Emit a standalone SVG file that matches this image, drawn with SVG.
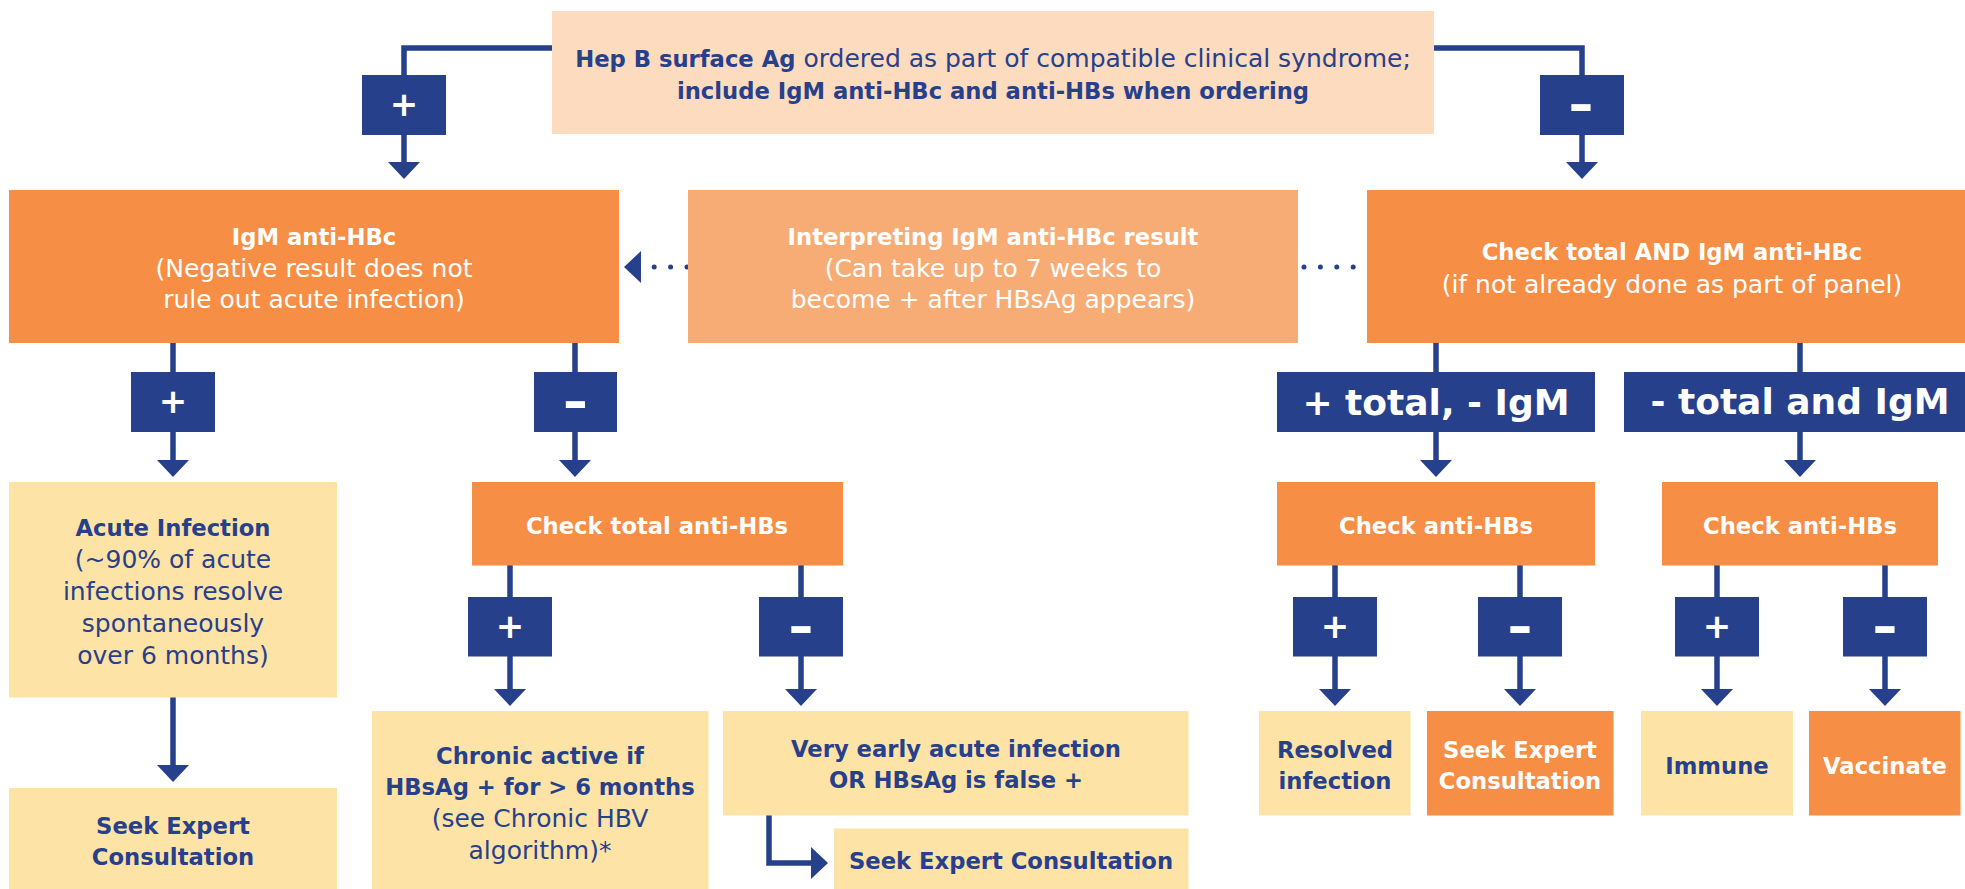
<svg xmlns="http://www.w3.org/2000/svg" width="1965" height="889" viewBox="0 0 1965 889">
<style>
.nv{fill:#26408B}
.or{fill:#F68E45}
.lo{fill:#F8AC75}
.pe{fill:#FCDBBE}
.ye{fill:#FDE3A6}
text{font-family:"DejaVu Sans","Liberation Sans",sans-serif;text-anchor:middle}
.b{font-weight:bold;font-size:22.7px}
.r{font-weight:normal;font-size:25px}
.w{fill:#FFFFFF}
.t{fill:#26408B}
.sg{font-weight:bold;font-size:34px;fill:#FFFFFF}
.mn{font-weight:bold;font-size:48px;fill:#FFFFFF}
.big{font-weight:bold;font-size:36px;fill:#FFFFFF}
.ln{stroke:#26408B;stroke-width:5.5;fill:none;marker-end:url(#ah)}
.dot{stroke:#26408B;stroke-width:5;fill:none;stroke-linecap:round;stroke-dasharray:0 16.4}
</style>
<defs>
<marker id="ah" markerUnits="userSpaceOnUse" markerWidth="17" markerHeight="32" refX="0" refY="16" orient="auto" viewBox="0 0 17 32"><path d="M0,0 L17,16 L0,32 Z" fill="#26408B"/></marker>
</defs>
<rect width="1965" height="889" fill="#FFFFFF"/>
<g id="connectors">
<path class="ln" d="M552,48 H404 V162"/>
<path class="ln" d="M1434,48 H1582 V162"/>
<path class="dot" d="M687,267 H641" style="marker-end:url(#ah)"/>
<path class="dot" d="M1304,267 H1372"/>
<path class="ln" d="M173,343 V460"/>
<path class="ln" d="M173,697 V765"/>
<path class="ln" d="M575,343 V460"/>
<path class="ln" d="M510,565 V689"/>
<path class="ln" d="M801,565 V689"/>
<path class="ln" d="M769,815 V863 H811"/>
<path class="ln" d="M1436,343 V460"/>
<path class="ln" d="M1800,343 V460"/>
<path class="ln" d="M1335,565 V689"/>
<path class="ln" d="M1520,565 V689"/>
<path class="ln" d="M1717,565 V689"/>
<path class="ln" d="M1885,565 V689"/>
</g>
<g id="n-top">
<rect class="pe" x="552" y="11" width="882" height="123"/>
<text class="t" x="993" y="66.5"><tspan class="b">Hep B surface Ag</tspan><tspan class="r"> ordered as part of compatible clinical syndrome;</tspan></text>
<text class="b t" x="993" y="98.5">include IgM anti-HBc and anti-HBs when ordering</text>
</g>
<g id="n-igm">
<rect class="or" x="9" y="190" width="610" height="153"/>
<text class="b w" x="314" y="245">IgM anti-HBc</text>
<text class="r w" x="314" y="276.5">(Negative result does not</text>
<text class="r w" x="314" y="307.5">rule out acute infection)</text>
</g>
<g id="n-interp">
<rect class="lo" x="688" y="190" width="610" height="153"/>
<text class="b w" x="993" y="245">Interpreting IgM anti-HBc result</text>
<text class="r w" x="993" y="276.5">(Can take up to 7 weeks to</text>
<text class="r w" x="993" y="307.5">become + after HBsAg appears)</text>
</g>
<g id="n-checkboth">
<rect class="or" x="1367" y="190" width="598" height="153"/>
<text class="b w" x="1672" y="260">Check total AND IgM anti-HBc</text>
<text class="r w" x="1672" y="293">(if not already done as part of panel)</text>
</g>
<g id="n-acute">
<rect class="ye" x="9" y="482" width="328" height="215.5"/>
<text class="b t" x="173" y="535.5">Acute Infection</text>
<text class="r t" x="173" y="567.5">(~90% of acute</text>
<text class="r t" x="173" y="599.5">infections resolve</text>
<text class="r t" x="173" y="631.5">spontaneously</text>
<text class="r t" x="173" y="663.5">over 6 months)</text>
</g>
<g id="n-seek1">
<rect class="ye" x="9" y="788" width="328" height="101"/>
<text class="b t" x="173" y="833.5">Seek Expert</text>
<text class="b t" x="173" y="865">Consultation</text>
</g>
<g id="n-checkhbs">
<rect class="or" x="472" y="482" width="371" height="83.5"/>
<text class="b w" x="657" y="534">Check total anti-HBs</text>
</g>
<g id="n-chronic">
<rect class="ye" x="372" y="711" width="336.5" height="178"/>
<text class="b t" x="540" y="763.5">Chronic active if</text>
<text class="b t" x="540" y="795">HBsAg + for &gt; 6 months</text>
<text class="r t" x="540" y="827">(see Chronic HBV</text>
<text class="r t" x="540" y="859">algorithm)*</text>
</g>
<g id="n-veryearly">
<rect class="ye" x="723" y="711" width="465.5" height="104.5"/>
<text class="b t" x="956" y="756.5">Very early acute infection</text>
<text class="b t" x="956" y="788">OR HBsAg is false +</text>
</g>
<g id="n-seek2">
<rect class="ye" x="834" y="828.5" width="354.5" height="60.5"/>
<text class="b t" x="1011" y="868.5">Seek Expert Consultation</text>
</g>
<g id="n-checkL">
<rect class="or" x="1277" y="482" width="318" height="83.5"/>
<text class="b w" x="1436" y="534">Check anti-HBs</text>
</g>
<g id="n-checkR">
<rect class="or" x="1662" y="482" width="276" height="83.5"/>
<text class="b w" x="1800" y="534">Check anti-HBs</text>
</g>
<g id="n-resolved">
<rect class="ye" x="1259" y="711" width="151.5" height="104.5"/>
<text class="b t" x="1335" y="757.5">Resolved</text>
<text class="b t" x="1335" y="789">infection</text>
</g>
<g id="n-seek3">
<rect class="or" x="1427" y="711" width="186.5" height="104.5"/>
<text class="b w" x="1520" y="757.5">Seek Expert</text>
<text class="b w" x="1520" y="789">Consultation</text>
</g>
<g id="n-immune">
<rect class="ye" x="1641" y="711" width="152" height="104.5"/>
<text class="b t" x="1717" y="774">Immune</text>
</g>
<g id="n-vaccinate">
<rect class="or" x="1809" y="711" width="151.5" height="104.5"/>
<text class="b w" x="1885" y="774">Vaccinate</text>
</g>
<g id="badge-top-pos"><rect class="nv" x="362" y="75" width="84" height="60"/><text class="sg" x="404" y="116">+</text></g>
<g id="badge-top-neg"><rect class="nv" x="1540" y="75" width="84" height="60"/><text class="mn" transform="translate(1581,120.5) scale(1.3,1)">-</text></g>
<g id="badge-igm-pos"><rect class="nv" x="131" y="372" width="84" height="60"/><text class="sg" x="173" y="413">+</text></g>
<g id="badge-igm-neg"><rect class="nv" x="534" y="372" width="83" height="60"/><text class="mn" transform="translate(575.5,417.5) scale(1.3,1)">-</text></g>
<g id="badge-hbs-pos"><rect class="nv" x="468" y="597" width="84" height="59.5"/><text class="sg" x="510" y="638">+</text></g>
<g id="badge-hbs-neg"><rect class="nv" x="759" y="597" width="84" height="59.5"/><text class="mn" transform="translate(801,642.5) scale(1.3,1)">-</text></g>
<g id="badge-total-pos"><rect class="nv" x="1277" y="372" width="318" height="60"/><text class="big" x="1436" y="415">+ total, - IgM</text></g>
<g id="badge-total-neg"><rect class="nv" x="1624" y="372" width="341" height="60"/><text class="big" x="1800" y="414">- total and IgM</text></g>
<g id="badge-l-pos"><rect class="nv" x="1293" y="597" width="84" height="59.5"/><text class="sg" x="1335" y="638">+</text></g>
<g id="badge-l-neg"><rect class="nv" x="1478" y="597" width="84" height="59.5"/><text class="mn" transform="translate(1520,642.5) scale(1.3,1)">-</text></g>
<g id="badge-r-pos"><rect class="nv" x="1675" y="597" width="84" height="59.5"/><text class="sg" x="1717" y="638">+</text></g>
<g id="badge-r-neg"><rect class="nv" x="1843" y="597" width="84" height="59.5"/><text class="mn" transform="translate(1885,642.5) scale(1.3,1)">-</text></g>
</svg>
